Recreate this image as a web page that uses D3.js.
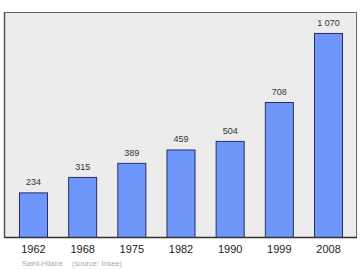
<!DOCTYPE html>
<html><head><meta charset="utf-8">
<script src="https://cdn.jsdelivr.net/npm/d3@7"></script>
<style>body{margin:0;background:#fff}svg{display:block}</style>
</head><body>
<svg id="c" width="360" height="270"></svg>
<script>
const years = ["1962","1968","1975","1982","1990","1999","2008"];
const population = [234, 315, 389, 459, 504, 708, 1070];
const valueLabels = ["234","315","389","459","504","708","1 070"];
const place = "Saint-Hilaire";
const source = "(source: Insee)";

const svg = d3.select("#c");
const L = 4, R = 356, T = 12, B = 237;

svg.append("rect").attr("x", L + 0.5).attr("y", T + 0.5).attr("width", R - L).attr("height", B - T)
  .attr("fill", "#ececec").attr("stroke", "#666").attr("stroke-width", 1);

const x = d3.scaleBand().domain(years).range([8.4, 352.6]).paddingInner(0.43).paddingOuter(0.215);
const y = d3.scaleLinear().domain([0, 1180]).range([B, T]);

svg.selectAll("rect.bar").data(population).enter().append("rect")
  .attr("class", "bar")
  .attr("x", (d, i) => x(years[i]) + 0.5)
  .attr("y", d => y(d) + 0.5)
  .attr("width", x.bandwidth())
  .attr("height", d => B - y(d))
  .attr("fill", "#6f97fb").attr("stroke", "#2b2e5e").attr("stroke-width", 1);

svg.selectAll("text.val").data(population).enter().append("text")
  .attr("x", (d, i) => x(years[i]) + x.bandwidth() / 2 + 0.5)
  .attr("y", d => y(d) - 7)
  .attr("text-anchor", "middle")
  .attr("font-family", "Liberation Sans, Arial, sans-serif")
  .attr("font-size", 9).attr("fill", "#333")
  .text((d, i) => valueLabels[i]);

svg.append("line").attr("x1", L).attr("x2", R + 1).attr("y1", B + 0.5).attr("y2", B + 0.5)
  .attr("stroke", "#333").attr("stroke-width", 1.5);
svg.append("line").attr("x1", L + 0.5).attr("x2", L + 0.5).attr("y1", T).attr("y2", B)
  .attr("stroke", "#555").attr("stroke-width", 1.5);

const xAxis = d3.axisBottom(x).tickSize(0).tickPadding(0);
const g = svg.append("g").attr("transform", `translate(0.5,${B + 16})`).call(xAxis);
g.select(".domain").remove();
g.selectAll("text").attr("font-family", "Liberation Sans, Arial, sans-serif")
  .attr("font-size", 11).attr("fill", "#222").attr("dy", 0);

svg.append("text").attr("x", 22).attr("y", 266)
  .attr("font-family", "Liberation Sans, Arial, sans-serif").attr("font-size", 7.5)
  .attr("fill", "#aaa").text(place);
svg.append("text").attr("x", 72).attr("y", 266)
  .attr("font-family", "Liberation Sans, Arial, sans-serif").attr("font-size", 7.5)
  .attr("fill", "#aaa").text(source);
</script>
</body></html>
